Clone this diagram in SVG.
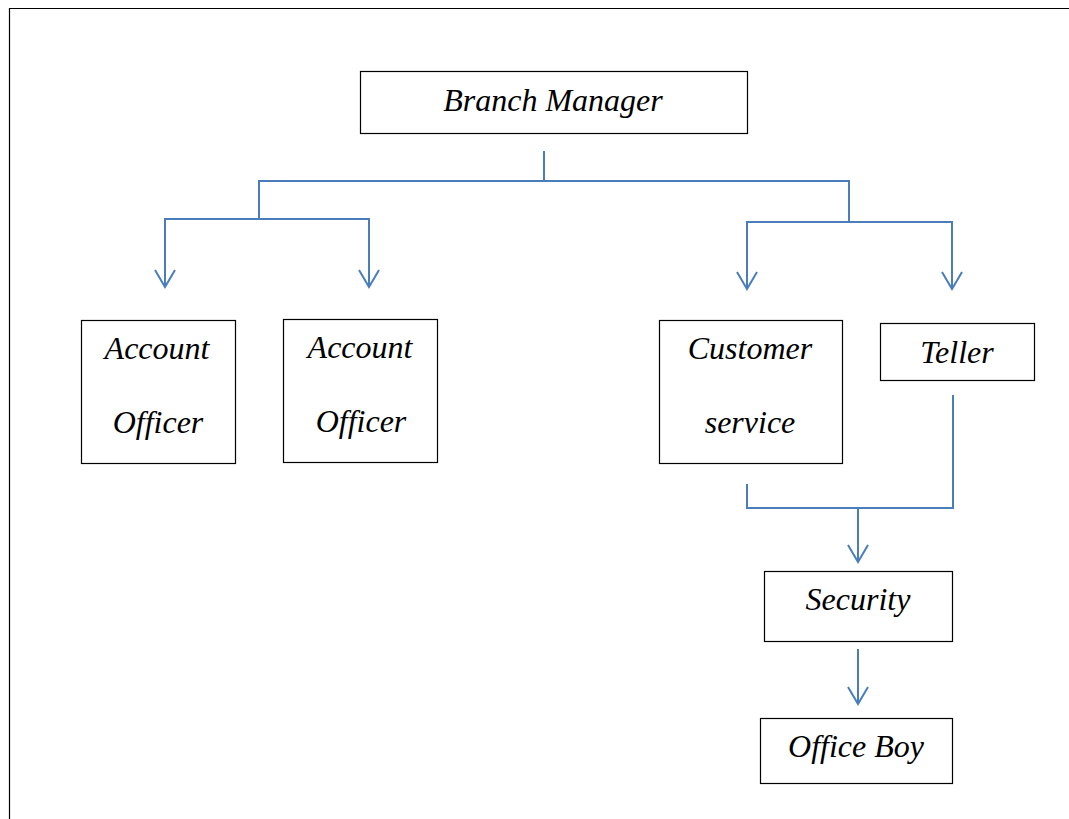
<svg xmlns="http://www.w3.org/2000/svg" width="1069" height="819" viewBox="0 0 1069 819">
<defs>
<style>
.box{fill:#fff;stroke:#000;stroke-width:1.2}
.t{font-family:"Liberation Serif","Times New Roman",serif;font-style:italic;font-size:32px;fill:#000;text-anchor:middle}
.c{fill:none;stroke:#4a7ebb;stroke-width:2}
</style>
<marker id="arr" viewBox="0 0 20 24" refX="18" refY="12" markerWidth="20" markerHeight="24" markerUnits="userSpaceOnUse" orient="auto-start-reverse">
<path d="M1 2 L18 12 L1 22" fill="none" stroke="#4a7ebb" stroke-width="2"/>
</marker>
</defs>
<rect x="0" y="0" width="1069" height="819" fill="#fff"/>
<path d="M9.5 819 V8.5 H1069" fill="none" stroke="#000" stroke-width="1.2"/>
<g id="connectors">
<path class="c" d="M544 151 V180"/>
<path class="c" d="M259 219 V181 H849 V222"/>
<path class="c" d="M165 287 V219 H369 V287" marker-start="url(#arr)" marker-end="url(#arr)"/>
<path class="c" d="M747 289 V222 H952 V289" marker-start="url(#arr)" marker-end="url(#arr)"/>
<path class="c" d="M747 484 V508 H953 V395"/>
<path class="c" d="M858 508 V562" marker-end="url(#arr)"/>
<path class="c" d="M858 649 V704" marker-end="url(#arr)"/>
</g>
<g id="branch-manager"><rect class="box" x="360.5" y="71.5" width="387" height="62"/><text class="t" x="553" y="111">Branch Manager</text></g>
<g id="account-officer-1"><rect class="box" x="81.5" y="320.5" width="154" height="143"/><text class="t" x="157" y="359">Account</text><text class="t" x="158" y="433">Officer</text></g>
<g id="account-officer-2"><rect class="box" x="283.5" y="319.5" width="154" height="143"/><text class="t" x="360" y="358">Account</text><text class="t" x="361" y="432">Officer</text></g>
<g id="customer-service"><rect class="box" x="659.5" y="320.5" width="183" height="143"/><text class="t" x="750" y="359">Customer</text><text class="t" x="750" y="433">service</text></g>
<g id="teller"><rect class="box" x="880.5" y="323.5" width="154" height="57"/><text class="t" x="957" y="363">Teller</text></g>
<g id="security"><rect class="box" x="764.5" y="571.5" width="188" height="70"/><text class="t" x="858" y="610">Security</text></g>
<g id="office-boy"><rect class="box" x="760.5" y="718.5" width="192" height="65"/><text class="t" x="856" y="757">Office Boy</text></g>
</svg>
